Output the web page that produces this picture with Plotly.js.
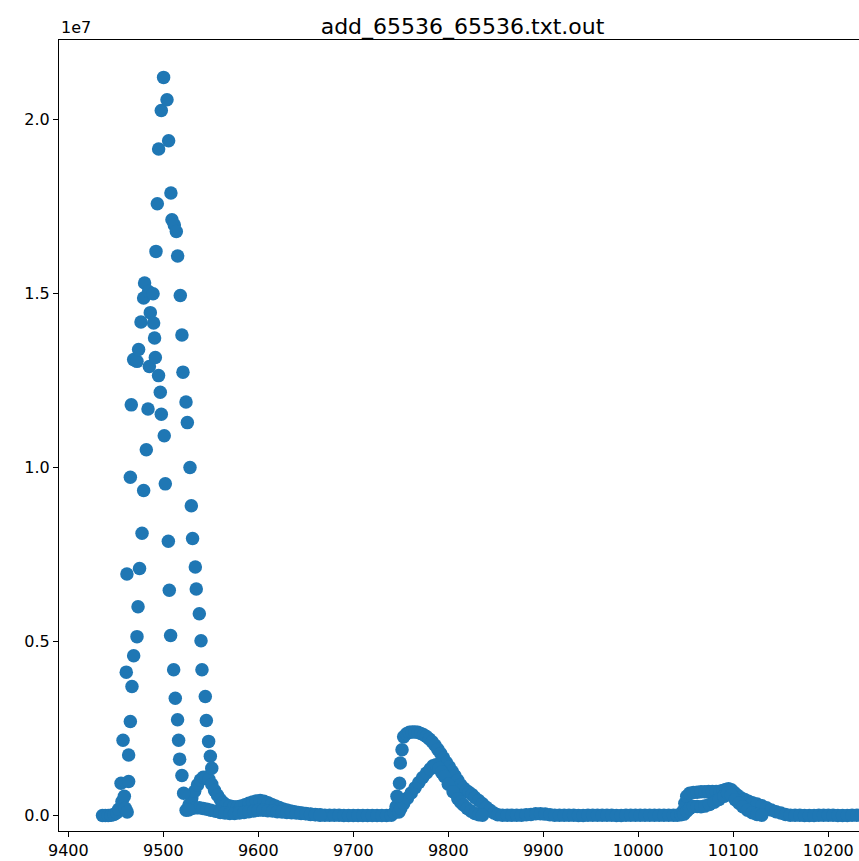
<!DOCTYPE html>
<html>
<head>
<meta charset="utf-8">
<script src="https://cdn.plot.ly/plotly-3.0.1.min.js"></script>
<style>
html, body { margin: 0; padding: 0; width: 859px; height: 861px; overflow: hidden; background: #fff; }
#chart { width: 900px; height: 861px; }
</style>
</head>
<body>
<div id="chart"></div>
<script>
// y values are given in units of 1e7 (the axis offset shown as "1e7")
const Y_UNIT = 1e7;

// isolated dots of the main peak and of steep rises
const dotX = [9455.5, 9456.5, 9459, 9460, 9462, 9463.5, 9457.6, 9461, 9461.7, 9463.5, 9465.3, 9465.3, 9466.3, 9467,
  9468.8, 9468.8, 9472.3, 9472.3, 9473.4, 9474, 9475, 9476.5, 9477.6, 9479.3, 9479.3, 9480.3, 9482.1, 9483.9,
  9484.5, 9485.3, 9486.3, 9489.2, 9489.8, 9490.8, 9491.6, 9492.3, 9493.7, 9495, 9495.1, 9496.8, 9497.9, 9497.9,
  9500.3, 9501, 9502.1, 9503.9, 9505.3, 9505.6, 9506.3, 9507.7, 9508, 9509.1, 9510.9, 9511.6, 9512.6, 9513.7,
  9515, 9515.1, 9516.1, 9517.2, 9517.9, 9519.6, 9519.6, 9520.7, 9521.4, 9523.9, 9525.3, 9526.6, 9528.1, 9529.5,
  9530.8, 9533.7, 9534.7, 9537.9, 9539.7, 9540.7, 9544.2, 9545.3, 9547.7, 9549.5, 9551,
  9746, 9748.7, 9749.5, 9751.3];
const dotY = [0.093, 0.040, 0.055, 0.021, 0.010, 0.098, 0.216, 0.412, 0.694, 0.174, 0.270, 0.972, 1.180, 0.371,
  0.459, 1.310, 0.514, 1.305, 0.600, 1.339, 0.710, 1.418, 0.811, 0.934, 1.487, 1.530, 1.051, 1.168,
  1.506, 1.290, 1.445, 1.499, 1.415, 1.372, 1.316, 1.621, 1.758, 1.264, 1.915, 1.216, 1.153, 2.026,
  2.121, 1.091, 0.953, 2.057, 0.788, 1.939, 0.647, 0.517, 1.789, 1.712, 0.419, 1.697, 0.337, 1.678,
  0.275, 1.608, 0.216, 0.162, 1.494, 1.381, 0.115, 1.274, 0.064, 1.188, 1.129, 0.016, 1.000, 0.890,
  0.796, 0.714, 0.651, 0.580, 0.502, 0.419, 0.342, 0.273, 0.213, 0.170, 0.136,
  0.055, 0.093, 0.151, 0.189];

// main dense band
const bandAx = [9436, 9439, 9442, 9445, 9448, 9451, 9453,
  9524, 9527, 9530, 9533, 9536, 9539, 9542, 9545, 9548, 9551, 9554, 9557, 9560, 9563, 9566, 9570, 9574, 9578,
  9582, 9586, 9590, 9594, 9598, 9602, 9606, 9610, 9614, 9618, 9622, 9626, 9630, 9634, 9638, 9642, 9646, 9650,
  9655, 9660, 9665, 9670, 9675, 9680, 9685, 9690, 9695, 9700, 9705, 9710, 9715, 9720, 9725, 9730, 9735, 9740,
  9743, 9745,
  9753, 9756, 9759, 9762, 9765, 9768, 9771, 9774, 9777, 9780, 9783, 9786, 9789, 9792, 9795, 9798, 9801, 9804,
  9807, 9810, 9813, 9816, 9819, 9822, 9825, 9828, 9832, 9836, 9840, 9844, 9848, 9852, 9857, 9862, 9867, 9872,
  9877, 9882, 9887, 9892, 9897, 9902, 9907, 9912, 9917, 9922, 9927, 9932, 9937, 9942, 9947, 9952, 9957, 9962,
  9967, 9972, 9977, 9982, 9987, 9992, 9997, 10002, 10007, 10012, 10017, 10022, 10027, 10032, 10037, 10041,
  10045, 10047, 10049, 10051, 10054, 10058, 10062, 10066, 10070, 10074, 10078, 10082, 10086, 10089, 10092,
  10095, 10098, 10101, 10104, 10108, 10112, 10116, 10120, 10125, 10130, 10135, 10140, 10145, 10150, 10155,
  10160, 10165, 10170, 10175, 10180, 10185, 10190, 10195, 10200, 10205, 10210, 10215, 10220, 10225, 10230,
  10235, 10240];
const bandAy = [0.000, 0.000, 0.000, 0.001, 0.003, 0.008, 0.018,
  0.015, 0.030, 0.050, 0.070, 0.088, 0.102, 0.110, 0.110, 0.104, 0.090, 0.072, 0.058, 0.046, 0.037, 0.031, 0.027, 0.025, 0.025,
  0.027, 0.031, 0.035, 0.039, 0.042, 0.043, 0.041, 0.037, 0.032, 0.027, 0.023, 0.019, 0.016, 0.013, 0.011, 0.009, 0.007, 0.006,
  0.004, 0.003, 0.002, 0.001, 0.001, 0.001, 0.001, 0.000, 0.000, 0.000, 0.000, 0.000, 0.000, 0.000, 0.000, 0.000, 0.000, 0.001,
  0.008, 0.025,
  0.226, 0.235, 0.239, 0.240, 0.240, 0.239, 0.236, 0.232, 0.227, 0.220, 0.212, 0.202, 0.190, 0.178, 0.165, 0.152, 0.140, 0.127,
  0.114, 0.101, 0.088, 0.079, 0.072, 0.066, 0.060, 0.052, 0.043, 0.034, 0.024, 0.015, 0.007, 0.002, 0.001, 0.001, 0.001, 0.001,
  0.001, 0.002, 0.003, 0.005, 0.005, 0.004, 0.002, 0.001, 0.001, 0.001, 0.001, 0.001, 0.000, 0.000, 0.001, 0.001, 0.001, 0.001,
  0.001, 0.001, 0.000, 0.000, 0.001, 0.001, 0.001, 0.001, 0.001, 0.001, 0.001, 0.001, 0.001, 0.001, 0.001, 0.001,
  0.002, 0.012, 0.035, 0.055, 0.064, 0.066, 0.067, 0.068, 0.068, 0.069, 0.069, 0.069, 0.070, 0.072, 0.075,
  0.077, 0.074, 0.066, 0.059, 0.051, 0.046, 0.041, 0.037, 0.033, 0.028, 0.022, 0.016, 0.011, 0.007, 0.003,
  0.001, 0.001, 0.001, 0.000, 0.000, 0.000, 0.001, 0.001, 0.001, 0.001, 0.000, 0.000, 0.000, 0.001, 0.001,
  0.001, 0.001];

// second (lower) dense band
const bandBx = [9527, 9530, 9534, 9538, 9542, 9546, 9550, 9555, 9560, 9565, 9570, 9575, 9580, 9585, 9590, 9595,
  9600, 9605, 9610, 9615, 9620, 9625, 9630, 9635, 9640, 9645, 9650, 9655, 9660, 9665,
  9748, 9750, 9753, 9757, 9761, 9765, 9769, 9773, 9777, 9781, 9784, 9787, 9790, 9793, 9796, 9800, 9805, 9810,
  9813, 9816, 9820, 9824, 9828, 9832, 9836,
  10048, 10051, 10054, 10058, 10062, 10066, 10070, 10075, 10080, 10085, 10090, 10094, 10098, 10102, 10106,
  10110, 10115, 10120, 10125, 10130];
const bandBy = [0.018, 0.020, 0.022, 0.022, 0.020, 0.018, 0.015, 0.012, 0.009, 0.007, 0.006, 0.006, 0.007, 0.009, 0.011, 0.013,
  0.015, 0.015, 0.014, 0.013, 0.011, 0.010, 0.009, 0.008, 0.007, 0.006, 0.005, 0.003, 0.002, 0.001,
  0.010, 0.020, 0.034, 0.050, 0.065, 0.080, 0.095, 0.109, 0.122, 0.134, 0.143, 0.146, 0.136, 0.124, 0.112, 0.090, 0.068, 0.048,
  0.038, 0.030, 0.020, 0.012, 0.006, 0.002, 0.001,
  0.004, 0.012, 0.020, 0.026, 0.026, 0.025, 0.027, 0.032, 0.038, 0.046, 0.055, 0.065, 0.058, 0.045, 0.035,
  0.025, 0.015, 0.008, 0.003, 0.001];

const xTicks = [9400, 9500, 9600, 9700, 9800, 9900, 10000, 10100, 10200];
const yTicks = [0, 0.5, 1.0, 1.5, 2.0];
const yTickText = ['0.0', '0.5', '1.0', '1.5', '2.0'];
const titleText = 'add_65536_65536.txt.out';

const COLOR = '#1f77b4';
const marker = { color: COLOR, size: 13.5, line: { width: 0 } };
const scale = arr => arr.map(v => v * Y_UNIT);

const traces = [
  { x: bandAx, y: scale(bandAy), type: 'scatter', mode: 'markers', marker, hoverinfo: 'skip' },
  { x: bandBx, y: scale(bandBy), type: 'scatter', mode: 'markers', marker, hoverinfo: 'skip' },
  { x: dotX, y: scale(dotY), type: 'scatter', mode: 'markers', marker, hoverinfo: 'skip' }
];

const font = { family: 'DejaVu Sans, sans-serif', size: 16, color: '#000' };
const axisCommon = {
  showgrid: false, zeroline: false, showline: true, linecolor: '#000', linewidth: 1, mirror: true,
  ticks: 'outside', ticklen: 5, tickwidth: 1, tickcolor: '#000', tickfont: font
};

const layout = {
  width: 900, height: 861,
  margin: { l: 59, r: 34, t: 40, b: 30 },
  paper_bgcolor: '#fff', plot_bgcolor: '#fff',
  showlegend: false,
  hovermode: false,
  title: { text: titleText, font: { family: 'DejaVu Sans, sans-serif', size: 22, color: '#000' },
           x: 0.5, xref: 'paper', xanchor: 'center', y: 1, yref: 'paper', yanchor: 'bottom', pad: { b: 6 } },
  xaxis: Object.assign({}, axisCommon, { range: [9390.2, 10239.7], tickvals: xTicks, ticktext: xTicks.map(String) }),
  yaxis: Object.assign({}, axisCommon, { range: [-0.0445 * Y_UNIT, 2.2284 * Y_UNIT],
           tickvals: scale(yTicks), ticktext: yTickText }),
  annotations: [{ text: '1e7', xref: 'paper', yref: 'paper', x: 0, y: 1, xanchor: 'left', yanchor: 'bottom',
                  showarrow: false, font: font, yshift: 1 }]
};

Plotly.newPlot('chart', traces, layout, { displayModeBar: false, staticPlot: true });
</script>
</body>
</html>
